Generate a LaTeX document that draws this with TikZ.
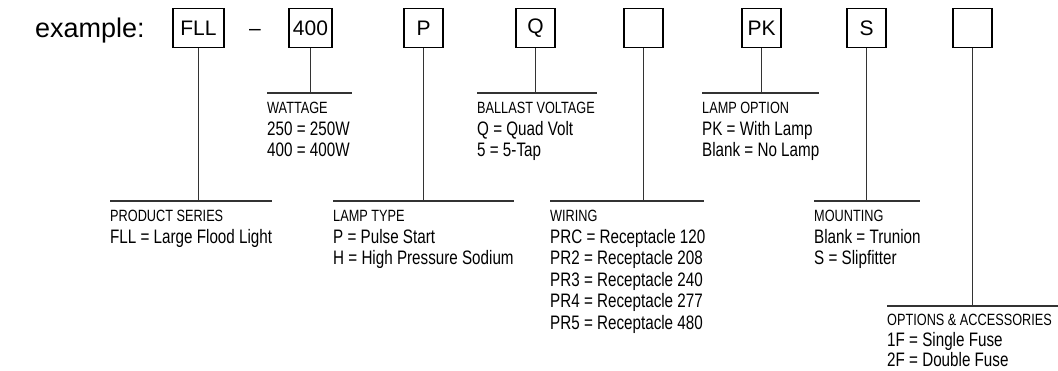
\documentclass[tikz,border=0pt]{standalone}
\usepackage{fontspec}
\setmainfont{Liberation Sans}
\newfontfamily\narrowfont{Liberation Sans}[FakeStretch=0.78]
\newcommand\hd{\fontsize{16.3}{19}\selectfont}
\begin{document}
\begin{tikzpicture}[x=1pt,y=-1pt,
  codebox/.style={draw=black, line width=1.4pt, minimum width=39pt, minimum height=39.5pt,
    inner sep=0pt, font=\fontsize{21}{25}\selectfont},
  lead/.style={draw=black!80, line width=1.3pt},
  lbl/.style={anchor=base west, inner sep=0pt, font=\narrowfont\fontsize{19.5}{21.5}\selectfont},
  lblb/.style={anchor=base west, inner sep=0pt, font=\narrowfont\fontsize{19.5}{20.5}\selectfont}]
\useasboundingbox (0,0) rectangle (1058,371);

\node[anchor=base west, inner sep=0pt, font=\fontsize{27}{31}\selectfont] (ex) at (35,38) {example:};

\node[codebox, minimum width=51pt] (fll) at (198.5,28) {FLL};
\node[anchor=base, inner sep=0pt, font=\fontsize{21}{25}\selectfont] (dash) at (255,35.5) {–};
\node[codebox, minimum width=43pt] (wat) at (310.5,28) {400};
\node[codebox] (lt) at (423.5,28) {P};
\node[codebox] (bv) at (535.5,28) {Q};
\node[codebox] (wr) at (643.5,28) {};
\node[codebox] (lo) at (761.5,28) {PK};
\node[codebox] (mt) at (866.5,28) {S};
\node[codebox] (oa) at (972.5,28) {};

% junctions and bar ends
\coordinate (fllj) at (198.5,201);  \coordinate (fllL) at (110,201);  \coordinate (fllR) at (272,201);
\coordinate (watj) at (310.5,93);   \coordinate (watL) at (267,93);   \coordinate (watR) at (352,93);
\coordinate (ltj) at (423.5,201);   \coordinate (ltL) at (333,201);   \coordinate (ltR) at (514,201);
\coordinate (bvj) at (535.5,93);    \coordinate (bvL) at (477,93);    \coordinate (bvR) at (597,93);
\coordinate (wrj) at (643.5,201);   \coordinate (wrL) at (550,201);   \coordinate (wrR) at (704,201);
\coordinate (loj) at (761.5,93);    \coordinate (loL) at (702,93);    \coordinate (loR) at (819,93);
\coordinate (mtj) at (866.5,201);   \coordinate (mtL) at (814,201);   \coordinate (mtR) at (920,201);
\coordinate (oaj) at (972.5,306);   \coordinate (oaL) at (887,306);   \coordinate (oaR) at (1058,306);

\foreach \n in {fll,wat,lt,bv,wr,lo,mt,oa}{
  \draw[lead] (\n.south) -- (\n j);
  \draw[lead] (\n L) -- (\n R);
}

\node[lbl] (t1) at (110,222) {\begin{tabular}[t]{@{}l@{}}{\hd PRODUCT SERIES}\\ FLL = Large Flood Light\end{tabular}};
\node[lbl] (t2) at (267,114) {\begin{tabular}[t]{@{}l@{}}{\hd WATTAGE}\\ 250 = 250W\\ 400 = 400W\end{tabular}};
\node[lbl] (t3) at (333,222) {\begin{tabular}[t]{@{}l@{}}{\hd LAMP TYPE}\\ P = Pulse Start\\ H = High Pressure Sodium\end{tabular}};
\node[lbl] (t4) at (477,114) {\begin{tabular}[t]{@{}l@{}}{\hd BALLAST VOLTAGE}\\ Q = Quad Volt\\ 5 = 5-Tap\end{tabular}};
\node[lbl] (t5) at (550,222) {\begin{tabular}[t]{@{}l@{}}{\hd WIRING}\\ PRC = Receptacle 120\\ PR2 = Receptacle 208\\ PR3 = Receptacle 240\\ PR4 = Receptacle 277\\ PR5 = Receptacle 480\end{tabular}};
\node[lbl] (t6) at (702,114) {\begin{tabular}[t]{@{}l@{}}{\hd LAMP OPTION}\\ PK = With Lamp\\ Blank = No Lamp\end{tabular}};
\node[lbl] (t7) at (814,222) {\begin{tabular}[t]{@{}l@{}}{\hd MOUNTING}\\ Blank = Trunion\\ S = Slipfitter\end{tabular}};
\node[lblb] (t8) at (887,326) {\begin{tabular}[t]{@{}l@{}}{\hd OPTIONS \& ACCESSORIES}\\ 1F = Single Fuse\\ 2F = Double Fuse\end{tabular}};
\end{tikzpicture}
\end{document}
